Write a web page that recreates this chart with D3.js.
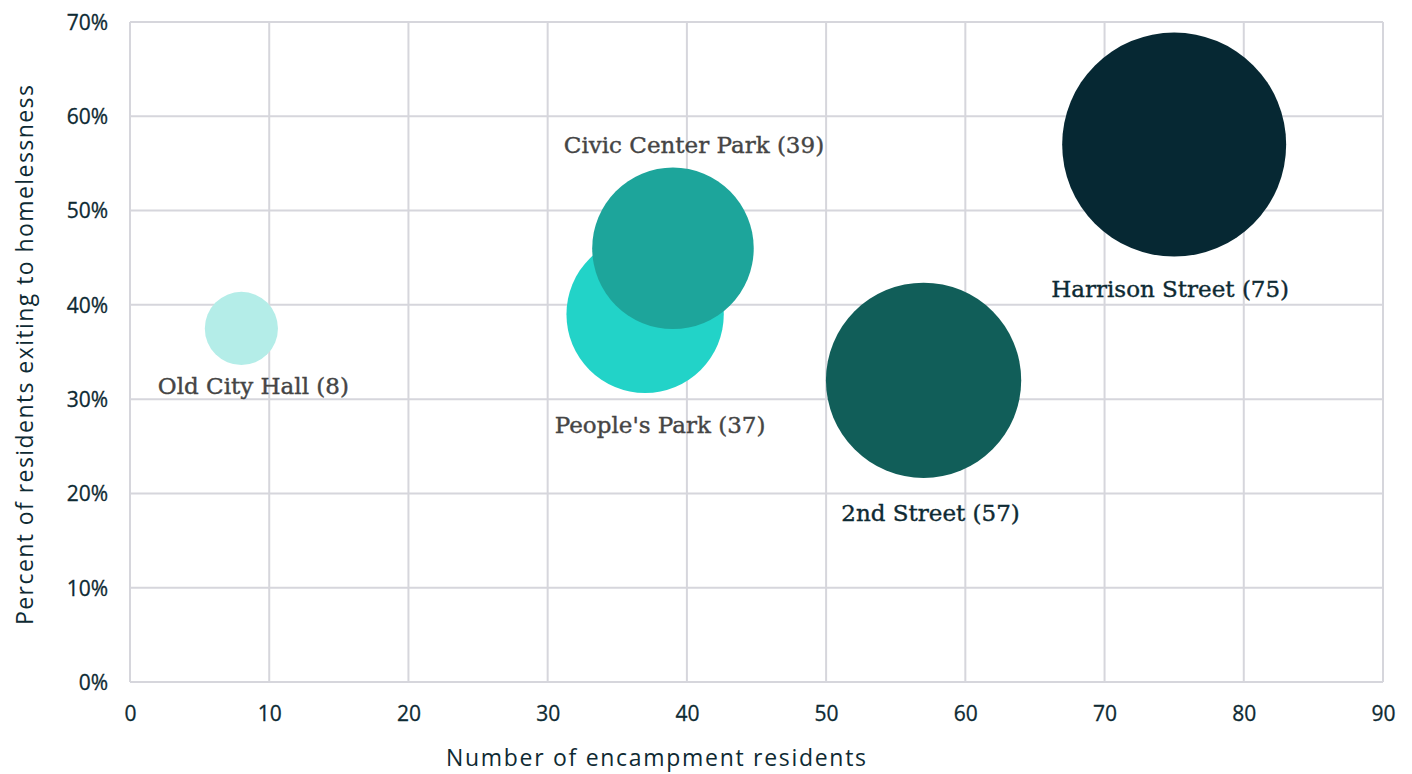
<!DOCTYPE html>
<html>
<head>
<meta charset="utf-8">
<script src="https://cdn.jsdelivr.net/npm/d3@7"></script>
<style>
  body { margin: 0; background: #fff; }
  svg { display: block; }
</style>
</head>
<body>
<div id="chart"></div>
<script>
const sites = ["Old City Hall", "People's Park", "Civic Center Park", "2nd Street", "Harrison Street"];
const residents = [8, 37, 39, 57, 75];
const exitShare = [0.375, 0.39, 0.46, 0.32, 0.57];
const colors = ["#b4ede8", "#22d3c8", "#1da59b", "#115e59", "#062833"];
const labelSide = ["below", "below", "above", "below", "below"];
const xTicks = [0, 10, 20, 30, 40, 50, 60, 70, 80, 90];
const yTicks = [0, 0.1, 0.2, 0.3, 0.4, 0.5, 0.6, 0.7];

// small hand nudges to match where the labels sit
const labelNudge = [[12, -11], [15, 0], [21, 0], [7, 3], [-4, 0]];
const labelColor = ["#454545", "#454545", "#454545", "#0e2a33", "#0e2a33"];

const width = 1412, height = 774;
const margin = {top: 22, right: 29, bottom: 92, left: 130};
const ink = "#0e2a33";

const svg = d3.select("#chart").append("svg")
  .attr("width", width)
  .attr("height", height);

const x = d3.scaleLinear().domain([0, 90]).range([margin.left, width - margin.right]);
const y = d3.scaleLinear().domain([0, 0.7]).range([height - margin.bottom, margin.top]);
const r = d3.scaleSqrt().domain([0, 75]).range([0, 112]);

// grid
svg.append("g")
  .selectAll("line")
  .data(xTicks)
  .enter()
  .append("line")
  .attr("x1", d => x(d)).attr("x2", d => x(d))
  .attr("y1", y(0)).attr("y2", y(0.7))
  .attr("stroke", "#d6d6dc")
  .attr("stroke-width", 2);

svg.append("g")
  .selectAll("line")
  .data(yTicks)
  .enter()
  .append("line")
  .attr("x1", x(0)).attr("x2", x(90))
  .attr("y1", d => y(d)).attr("y2", d => y(d))
  .attr("stroke", "#d6d6dc")
  .attr("stroke-width", 2);

// axes (labels only)
const xAxis = svg.append("g")
  .attr("transform", "translate(0," + y(0) + ")")
  .call(d3.axisBottom(x).tickValues(xTicks).tickSize(0).tickPadding(24));
const yAxis = svg.append("g")
  .attr("transform", "translate(" + x(0) + ",0)")
  .call(d3.axisLeft(y).tickValues(yTicks).tickSize(0).tickPadding(22).tickFormat(d3.format(".0%")));

[xAxis, yAxis].forEach(a => {
  a.select(".domain").remove();
  a.selectAll("text")
    .style("font-family", "'Open Sans', Lato, sans-serif")
    .style("font-size", "21px")
    .attr("fill", ink)
    .attr("stroke", ink)
    .attr("stroke-width", 0.3);
});
yAxis.selectAll("text").attr("dy", "0.35em");

// bubbles
const idx = d3.range(sites.length);
svg.append("g")
  .selectAll("circle")
  .data(idx)
  .enter()
  .append("circle")
  .attr("cx", i => x(residents[i]))
  .attr("cy", i => y(exitShare[i]))
  .attr("r", i => r(residents[i]))
  .attr("fill", i => colors[i]);

// labels
svg.append("g")
  .selectAll("text")
  .data(idx)
  .enter()
  .append("text")
  .text(i => sites[i] + " (" + residents[i] + ")")
  .attr("x", i => x(residents[i]) + labelNudge[i][0])
  .attr("y", i => {
    const cy = y(exitShare[i]), rr = r(residents[i]);
    return (labelSide[i] === "above" ? cy - rr - 15 : cy + rr + 40) + labelNudge[i][1];
  })
  .attr("text-anchor", "middle")
  .style("font-family", "'DejaVu Serif', serif")
  .style("font-size", "23px")
  .attr("fill", i => labelColor[i])
  .attr("stroke", i => labelColor[i])
  .attr("stroke-width", 0.4);

// axis titles
svg.append("text")
  .text("Number of encampment residents")
  .attr("x", 656)
  .attr("y", 766)
  .attr("text-anchor", "middle")
  .attr("textLength", 420)
  .attr("lengthAdjust", "spacing")
  .style("font-family", "'Open Sans', Lato, sans-serif")
  .style("font-size", "23px")
  .attr("fill", ink);

svg.append("text")
  .text("Percent of residents exiting to homelessness")
  .attr("transform", "translate(33," + ((y(0) + y(0.7)) / 2 + 3) + ") rotate(-90)")
  .attr("text-anchor", "middle")
  .attr("textLength", 540)
  .attr("lengthAdjust", "spacing")
  .style("font-family", "'Open Sans', Lato, sans-serif")
  .style("font-size", "23px")
  .attr("fill", ink);
</script>
</body>
</html>
